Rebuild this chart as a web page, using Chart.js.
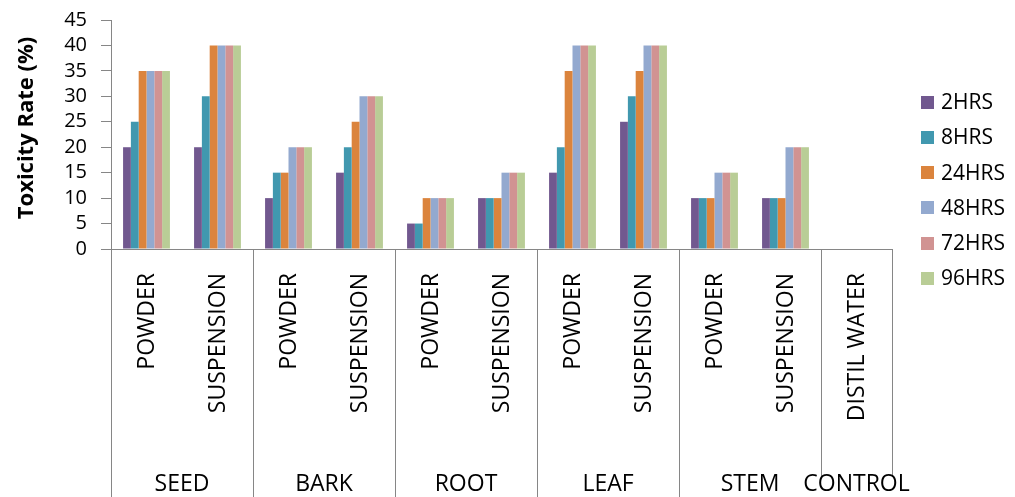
<!DOCTYPE html>
<html>
<head>
<meta charset="utf-8">
<script src="https://cdn.jsdelivr.net/npm/chart.js@4/dist/chart.umd.min.js"></script>
<style>
  html, body { margin: 0; padding: 0; background: #ffffff; }
  #wrap { width: 1015px; height: 497px; }
</style>
</head>
<body>
<div id="wrap"><canvas id="chart" width="1015" height="497"></canvas></div>
<script>
// Preparation type for each bar cluster
const categories = ['POWDER', 'SUSPENSION', 'POWDER', 'SUSPENSION', 'POWDER', 'SUSPENSION',
                    'POWDER', 'SUSPENSION', 'POWDER', 'SUSPENSION', 'DISTIL WATER'];
// Plant part, and how many clusters each one spans
const groups = ['SEED', 'BARK', 'ROOT', 'LEAF', 'STEM', 'CONTROL'];
const groupSizes = [2, 2, 2, 2, 2, 1];

// Exposure times (series)
const seriesNames = ['2HRS', '8HRS', '24HRS', '48HRS', '72HRS', '96HRS'];
const seriesColors = ['#71588F', '#4198AF', '#DB843D', '#93A9CF', '#D19392', '#B9CD96'];

// Toxicity rate (%) per exposure time, in category order
const hrs2  = [20, 20, 10, 15, 5, 10, 15, 25, 10, 10, 0];
const hrs8  = [25, 30, 15, 20, 5, 10, 20, 30, 10, 10, 0];
const hrs24 = [35, 40, 15, 25, 10, 10, 35, 35, 10, 10, 0];
const hrs48 = [35, 40, 20, 30, 10, 15, 40, 40, 15, 20, 0];
const hrs72 = [35, 40, 20, 30, 10, 15, 40, 40, 15, 20, 0];
const hrs96 = [35, 40, 20, 30, 10, 15, 40, 40, 15, 20, 0];
const seriesValues = [hrs2, hrs8, hrs24, hrs48, hrs72, hrs96];

// Y axis ticks
const yMin = 0, yMax = 45, yStep = 5;
const yTitle = 'Toxicity Rate (%)';

const FONT = '"Open Sans", "DejaVu Sans", sans-serif';
const AXIS_GRAY = '#868686';
const PLOT_TOP = 20;

// Draws the two-level category axis, the y-axis title and the legend
const decorations = {
  id: 'decorations',
  afterDraw(chart) {
    const ctx = chart.ctx;
    const x = chart.scales.x;
    const area = chart.chartArea;
    const band = (area.right - area.left) / categories.length;
    const H = chart.height;

    ctx.save();

    // group dividers below the axis
    ctx.strokeStyle = AXIS_GRAY;
    ctx.lineWidth = 1;
    let idx = 0;
    const bounds = [0];
    groupSizes.forEach(n => { idx += n; bounds.push(idx); });
    bounds.forEach((b, k) => {
      const px = Math.round(x.getPixelForValue(b) - band / 2) + 0.5;
      const isControlEdge = k >= bounds.length - 2;
      ctx.beginPath();
      ctx.moveTo(px, area.bottom);
      ctx.lineTo(px, isControlEdge ? area.bottom + 228 : H);
      ctx.stroke();
    });

    // rotated category labels
    ctx.fillStyle = '#000000';
    ctx.font = '23px ' + FONT;
    ctx.textAlign = 'right';
    ctx.textBaseline = 'middle';
    categories.forEach((label, i) => {
      const cx = x.getPixelForValue(i);
      ctx.save();
      ctx.translate(cx + 1, area.bottom + 24);
      ctx.rotate(-Math.PI / 2);
      ctx.fillText(label, 0, 0);
      ctx.restore();
    });

    // group labels
    ctx.textAlign = 'center';
    ctx.textBaseline = 'alphabetic';
    let start = 0;
    groups.forEach((g, k) => {
      const first = x.getPixelForValue(start);
      const last = x.getPixelForValue(start + groupSizes[k] - 1);
      ctx.fillText(g, (first + last) / 2, area.bottom + 242);
      start += groupSizes[k];
    });

    // y-axis title
    ctx.save();
    ctx.font = 'bold 22px ' + FONT;
    ctx.textAlign = 'center';
    ctx.textBaseline = 'middle';
    ctx.translate(27, 128);
    ctx.rotate(-Math.PI / 2);
    ctx.fillText(yTitle, 0, 0);
    ctx.restore();

    // legend
    ctx.font = '21px ' + FONT;
    ctx.textAlign = 'left';
    ctx.textBaseline = 'middle';
    chart.data.datasets.forEach((ds, i) => {
      const cy = 102 + i * 35.3;
      ctx.fillStyle = ds.backgroundColor;
      ctx.fillRect(921, Math.round(cy - 6.5), 13, 13);
      ctx.fillStyle = '#000000';
      ctx.fillText(ds.label, 941, cy + 1);
    });

    ctx.restore();
  }
};

new Chart(document.getElementById('chart'), {
  type: 'bar',
  data: {
    labels: categories,
    datasets: seriesNames.map((name, i) => ({
      label: name,
      data: seriesValues[i],
      backgroundColor: seriesColors[i],
      borderWidth: 0,
      categoryPercentage: 0.66,
      barPercentage: 1.0
    }))
  },
  options: {
    responsive: false,
    animation: false,
    devicePixelRatio: 1,
    layout: { padding: { left: 0, top: 0, right: 123, bottom: 0 } },
    plugins: { legend: { display: false }, tooltip: { enabled: false } },
    scales: {
      x: {
        grid: { display: false },
        ticks: { display: false },
        border: { color: AXIS_GRAY, width: 1 },
        afterFit(scale) { scale.height = 248; }
      },
      y: {
        min: yMin,
        max: yMax,
        ticks: {
          stepSize: yStep,
          autoSkip: false,
          color: '#000000',
          font: { family: FONT, size: 20 },
          padding: 14
        },
        grid: {
          drawOnChartArea: false,
          drawTicks: true,
          tickLength: 10,
          color: AXIS_GRAY
        },
        border: { color: AXIS_GRAY, width: 1 },
        afterFit(scale) {
          scale.width = 111;
          scale.paddingTop = PLOT_TOP;
        }
      }
    }
  },
  plugins: [decorations]
});
</script>
</body>
</html>
